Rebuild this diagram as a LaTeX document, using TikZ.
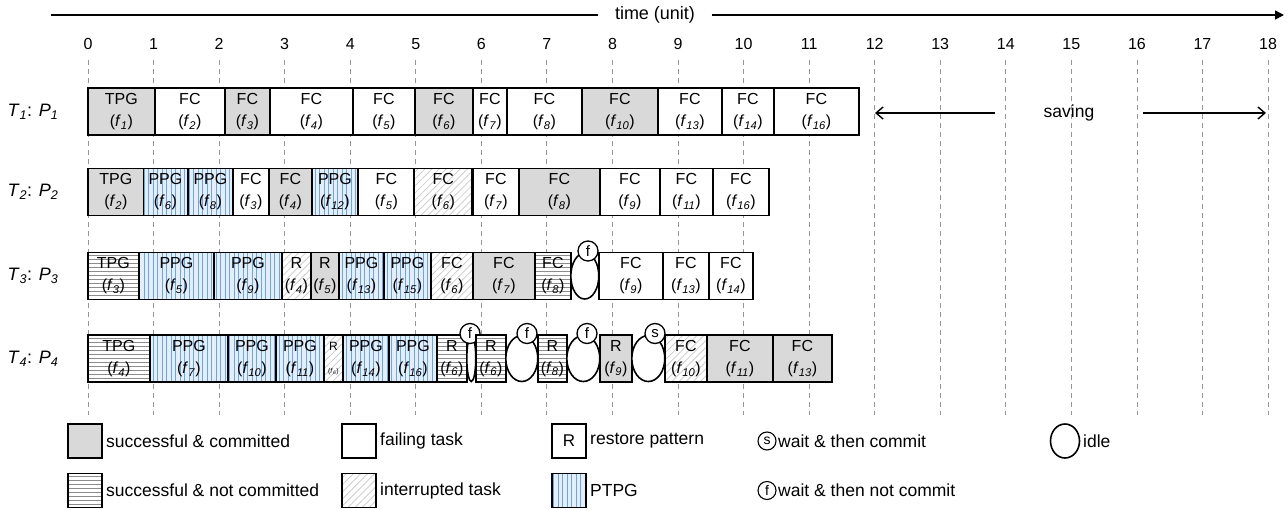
\documentclass[tikz,border=0pt]{standalone}
\usepackage{fontspec}
\setmainfont{Liberation Sans}
\usetikzlibrary{patterns.meta,shapes.geometric,arrows.meta}
\definecolor{cgray}{RGB}{217,217,217}
\definecolor{dgray}{RGB}{150,150,150}
\definecolor{hgray}{RGB}{140,140,140}
\definecolor{igray}{RGB}{200,200,200}
\definecolor{pblue}{RGB}{110,165,220}
\definecolor{lblue}{RGB}{228,238,249}
\tikzset{
  cell/.style={draw=black, line width=1.8pt, inner sep=0pt, minimum height=47pt, align=center, font=\fontsize{16}{22}\selectfont},
  scc/.style={fill=cgray},
  fail/.style={fill=white},
  hor/.style={fill=white, path picture={\foreach \k in {1,...,12}{\draw[hgray, line width=0.7pt] ([yshift=-\k*4pt+1pt]path picture bounding box.north west) -- ([yshift=-\k*4pt+1pt]path picture bounding box.north east);}}},
  intr/.style={preaction={fill=white}, pattern={Lines[angle=45,distance=5pt,line width=0.7pt]}, pattern color=igray},
  ptpg/.style={preaction={fill=lblue}, pattern={Lines[angle=90,distance=4.5pt,line width=0.8pt]}, pattern color=pblue},
  idle/.style={ellipse, draw=black, line width=1.6pt, fill=white, inner sep=0pt, minimum height=46pt},
  mk/.style={circle, draw=black, line width=1.3pt, fill=white, inner sep=0pt, minimum size=20pt, font=\fontsize{15}{15}\selectfont},
  lmk/.style={circle, draw=black, line width=1.1pt, fill=white, inner sep=0pt, minimum size=18pt, font=\fontsize{14}{14}\selectfont},
  dashline/.style={draw=dgray, line width=0.8pt, dash pattern=on 5pt off 4pt},
  tick/.style={font=\fontsize{16}{16}\selectfont, inner sep=0pt},
  rowlab/.style={font=\fontsize{18}{18}\selectfont, inner sep=0pt},
  lt/.style={font=\fontsize{17.5}{20}\selectfont, inner sep=2pt, anchor=west},
  lsq/.style={cell, minimum width=34pt, minimum height=34pt}
}
\newcommand\bx[7]{\node[cell,#5,minimum width={#3-#2},anchor=west] (#1) at (#2,\ry) {#6\\(\textit{f}\textsubscript{\textit{#7}})};}
\newcommand\idl[5]{\node[idle,minimum width={#3-#2},anchor=west] (#1) at (#2,\ry) {};
  \node[mk] (#1m) at (#4,\ry-25) {#5};}
\begin{document}
\begin{tikzpicture}[x=1pt,y=-1pt]
\useasboundingbox (0,0) rectangle (1287,509);
% time axis
\coordinate (ta) at (51,15);
\coordinate (tb) at (1284,15);
\node[font=\fontsize{18}{18}\selectfont, inner sep=0pt, minimum width=113pt, minimum height=20pt] (tl) at (655,15) {time (unit)};
\draw[line width=1.6pt] (ta) -- (tl.west);
\draw[line width=1.6pt, -{Triangle[length=9pt,width=9pt]}] (tl.east) -- (tb);
\foreach \i in {0,...,18}{
  \pgfmathsetmacro\xx{88+\i*65.556}
  \node[tick] (t\i) at (\xx,44) {\i};
  \draw[dashline] (\xx,60) -- (\xx,415);
}
% saving
\node[font=\fontsize{17.5}{18}\selectfont] (sv) at (1069,113) {saving};
\coordinate (sa) at (995,113);
\coordinate (s12) at (875,113);
\coordinate (sb) at (1143,113);
\coordinate (s18) at (1266,113);
\draw[line width=1.4pt, -{Straight Barb[length=7pt,width=12pt]}] (sa) -- (s12);
\draw[line width=1.4pt, -{Straight Barb[length=7pt,width=12pt]}] (sb) -- (s18);
% row 1
\def\ry{111.5}
\node[rowlab] (l1) at (33,\ry) {\textit{T}\textsubscript{\textit{1}}: \textit{P}\textsubscript{\textit{1}}};
\bx{a1}{87}{154}{}{scc}{TPG}{1}
\bx{a2}{154}{224}{}{fail}{FC}{2}
\bx{a3}{224}{269}{}{scc}{FC}{3}
\bx{a4}{269}{352}{}{fail}{FC}{4}
\bx{a5}{352}{414}{}{fail}{FC}{5}
\bx{a6}{414}{472}{}{scc}{FC}{6}
\bx{a7}{472}{506}{}{fail}{FC}{7}
\bx{a8}{506}{581}{}{fail}{FC}{8}
\bx{a9}{581}{657}{}{scc}{FC}{10}
\bx{a10}{657}{721}{}{fail}{FC}{13}
\bx{a11}{721}{773}{}{fail}{FC}{14}
\bx{a12}{773}{858}{}{fail}{FC}{16}
% row 2
\def\ry{192}
\node[rowlab] (l2) at (33,\ry) {\textit{T}\textsubscript{\textit{2}}: \textit{P}\textsubscript{\textit{2}}};
\bx{b1}{87}{143}{}{scc}{TPG}{2}
\bx{b2}{143}{187}{}{ptpg}{PPG}{6}
\bx{b3}{187}{232}{}{ptpg}{PPG}{8}
\bx{b4}{232}{268}{}{fail}{FC}{3}
\bx{b5}{268}{311}{}{scc}{FC}{4}
\bx{b6}{311}{357}{}{ptpg}{PPG}{12}
\bx{b7}{357}{414}{}{fail}{FC}{5}
\bx{b8}{414}{472}{}{intr}{FC}{6}
\bx{b9}{472}{518}{}{fail}{FC}{7}
\bx{b10}{518}{599}{}{scc}{FC}{8}
\bx{b11}{599}{659}{}{fail}{FC}{9}
\bx{b12}{659}{712}{}{fail}{FC}{11}
\bx{b13}{712}{768}{}{fail}{FC}{16}
% row 3
\def\ry{276}
\node[rowlab] (l3) at (33,\ry) {\textit{T}\textsubscript{\textit{3}}: \textit{P}\textsubscript{\textit{3}}};
\bx{c1}{87}{138}{}{hor}{TPG}{3}
\bx{c2}{138}{213}{}{ptpg}{PPG}{5}
\bx{c3}{213}{281}{}{ptpg}{PPG}{9}
\bx{c4}{281}{310}{}{intr}{R}{4}
\bx{c5}{310}{338}{}{scc}{R}{5}
\bx{c6}{338}{383}{}{ptpg}{PPG}{13}
\bx{c7}{383}{430}{}{ptpg}{PPG}{15}
\bx{c8}{430}{472}{}{intr}{FC}{6}
\bx{c9}{472}{534}{}{scc}{FC}{7}
\bx{c10}{534}{570}{}{hor}{FC}{8}
\idl{c11}{570}{598}{588}{f}
\bx{c12}{598}{662}{}{fail}{FC}{9}
\bx{c13}{662}{708}{}{fail}{FC}{13}
\bx{c14}{708}{752}{}{fail}{FC}{14}
% row 4
\def\ry{358.5}
\node[rowlab] (l4) at (33,\ry) {\textit{T}\textsubscript{\textit{4}}: \textit{P}\textsubscript{\textit{4}}};
\bx{d1}{87}{149}{}{hor}{TPG}{4}
\bx{d2}{149}{227}{}{ptpg}{PPG}{7}
\bx{d3}{227}{275}{}{ptpg}{PPG}{10}
\bx{d4}{275}{323}{}{ptpg}{PPG}{11}
\node[cell,intr,minimum width=19,anchor=west] (d5) at (323,\ry) {{\fontsize{12}{14}\selectfont R}\\[1pt]{\fontsize{7}{8}\selectfont (\textit{f}\textsubscript{\textit{6}})}};
\bx{d6}{342}{388}{}{ptpg}{PPG}{14}
\bx{d7}{388}{436}{}{ptpg}{PPG}{16}
\bx{d8}{436}{466}{}{hor}{R}{6}
\idl{d9}{466}{475}{470}{f}
\bx{d10}{475}{505}{}{hor}{R}{6}
\idl{d11}{505}{537}{527}{f}
\bx{d12}{537}{566}{}{hor}{R}{8}
\idl{d13}{566}{599}{587}{f}
\bx{d14}{599}{631}{}{scc}{R}{9}
\idl{d15}{631}{664}{655}{s}
\bx{d16}{664}{706}{}{intr}{FC}{10}
\bx{d17}{706}{772}{}{scc}{FC}{11}
\bx{d18}{772}{831}{}{scc}{FC}{13}
% legend
\def\ly{441}
\def\lyy{490.5}
\node[lsq,scc] (k1) at (85,\ly) {};
\node[lt] (k1t) at (104,\ly) {successful \& committed};
\node[lsq,fail] (k2) at (359,\ly) {};
\node[lt] (k2t) at (378,\ly) {failing task};
\node[lsq,fail,font=\fontsize{17}{17}\selectfont] (k3) at (569,\ly) {R};
\node[lt] (k3t) at (588,\ly) {restore pattern};
\node[lmk] (k4) at (767,\ly) {s};
\node[lt] (k4t) at (776,\ly) {wait \& then commit};
\node[idle,minimum width=29,minimum height=34] (k5) at (1065,\ly) {};
\node[lt] (k5t) at (1081,\ly) {idle};
\node[lsq,hor] (k6) at (85,\lyy) {};
\node[lt] (k6t) at (104,\lyy) {successful \& not committed};
\node[lsq,intr] (k7) at (359,\lyy) {};
\node[lt] (k7t) at (378,\lyy) {interrupted task};
\node[lsq,ptpg] (k8) at (569,\lyy) {};
\node[lt] (k8t) at (588,\lyy) {PTPG};
\node[lmk] (k9) at (767,\lyy) {f};
\node[lt] (k9t) at (776,\lyy) {wait \& then not commit};
\end{tikzpicture}
\end{document}
